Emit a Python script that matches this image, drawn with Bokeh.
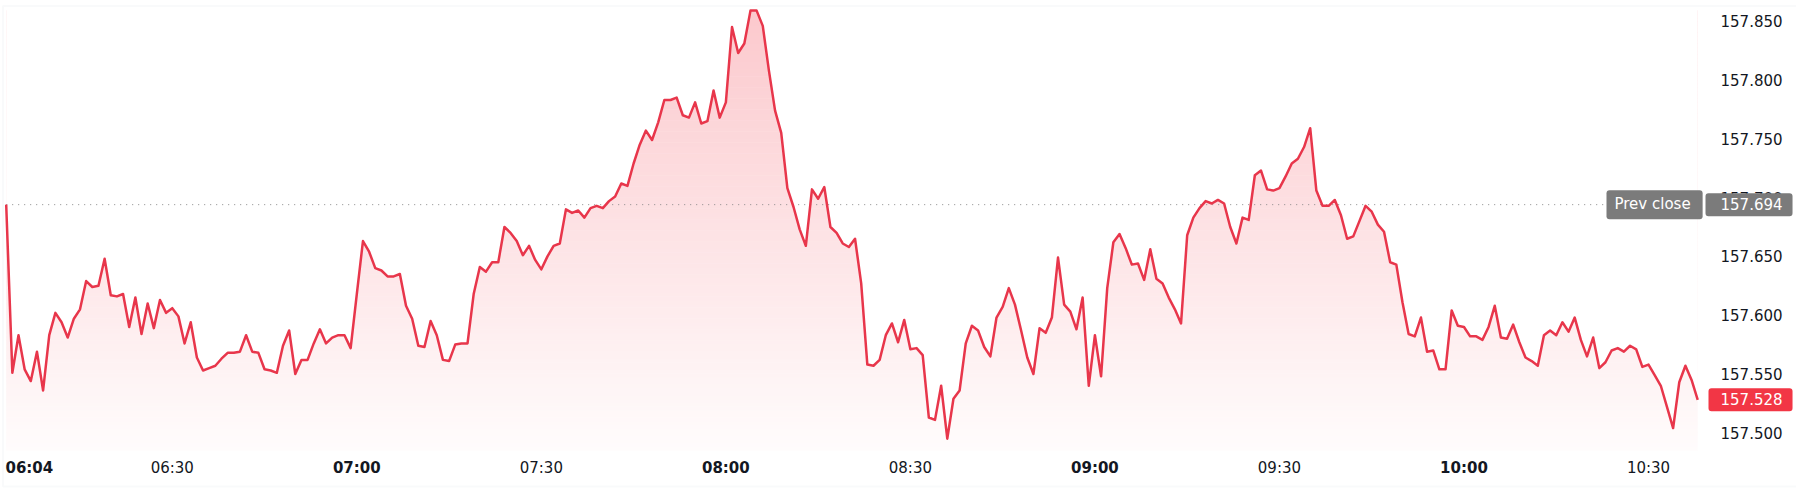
import numpy as np
from bokeh.plotting import figure
from bokeh.models import (Range1d, FixedTicker, NumeralTickFormatter, Label,
                          LabelSet, ColumnDataSource, LinearAxis, BoxAnnotation)
from bokeh.core.properties import value
from bokeh.embed import file_html
from bokeh.resources import INLINE

# ---------------- data ----------------
start_minute = 3          # minutes after 06:00 of the first sample (1-minute samples)
prev_close = 157.694
last_price = 157.528

prices = [
    157.694, 157.551, 157.583, 157.554, 157.544, 157.569, 157.536, 157.583, 157.602, 157.594,
    157.581, 157.597, 157.605, 157.629, 157.624, 157.625, 157.648, 157.617, 157.616, 157.618,
    157.590, 157.615, 157.584, 157.610, 157.589, 157.613, 157.602, 157.606, 157.599, 157.576,
    157.594, 157.564, 157.553, 157.555, 157.557, 157.563, 157.568, 157.568, 157.569, 157.583,
    157.569, 157.568, 157.554, 157.553, 157.551, 157.574, 157.587, 157.550, 157.562, 157.562,
    157.576, 157.588, 157.576, 157.581, 157.583, 157.583, 157.572, 157.618, 157.663, 157.654,
    157.640, 157.638, 157.633, 157.633, 157.635, 157.608, 157.597, 157.574, 157.573, 157.595,
    157.583, 157.562, 157.561, 157.575, 157.576, 157.576, 157.618, 157.641, 157.637, 157.645,
    157.645, 157.675, 157.670, 157.663, 157.651, 157.659, 157.647, 157.639, 157.650, 157.659,
    157.661, 157.690, 157.687, 157.689, 157.683, 157.691, 157.693, 157.691, 157.697, 157.701,
    157.712, 157.710, 157.729, 157.745, 157.757, 157.749, 157.764, 157.783, 157.783, 157.785,
    157.770, 157.768, 157.781, 157.763, 157.765, 157.791, 157.768, 157.781, 157.845, 157.823,
    157.831, 157.859, 157.859, 157.846, 157.808, 157.774, 157.755, 157.708, 157.692, 157.673,
    157.659, 157.707, 157.699, 157.709, 157.675, 157.670, 157.661, 157.658, 157.665, 157.627,
    157.558, 157.557, 157.562, 157.583, 157.593, 157.577, 157.596, 157.571, 157.572, 157.566,
    157.513, 157.511, 157.540, 157.495, 157.529, 157.536, 157.576, 157.591, 157.587, 157.573,
    157.565, 157.598, 157.607, 157.623, 157.609, 157.587, 157.564, 157.550, 157.589, 157.585,
    157.598, 157.649, 157.609, 157.603, 157.588, 157.615, 157.540, 157.583, 157.548, 157.623,
    157.662, 157.669, 157.657, 157.643, 157.644, 157.630, 157.656, 157.631, 157.627, 157.615,
    157.605, 157.593, 157.668, 157.683, 157.691, 157.697, 157.695, 157.698, 157.695, 157.675,
    157.661, 157.683, 157.681, 157.719, 157.723, 157.707, 157.706, 157.708, 157.718, 157.729,
    157.733, 157.743, 157.759, 157.706, 157.693, 157.693, 157.698, 157.685, 157.665, 157.667,
    157.680, 157.693, 157.688, 157.677, 157.671, 157.645, 157.643, 157.611, 157.584, 157.582,
    157.598, 157.569, 157.570, 157.554, 157.554, 157.604, 157.591, 157.590, 157.582, 157.582,
    157.579, 157.590, 157.608, 157.581, 157.580, 157.592, 157.577, 157.564, 157.561, 157.557,
    157.583, 157.587, 157.583, 157.594, 157.586, 157.598, 157.579, 157.565, 157.581, 157.555,
    157.560, 157.570, 157.572, 157.569, 157.574, 157.571, 157.556, 157.558, 157.549, 157.540,
    157.522, 157.504, 157.543, 157.557, 157.545, 157.528,
]

y_ticks = [157.500, 157.550, 157.600, 157.650, 157.700, 157.750, 157.800, 157.850]
x_ticks_regular = [30, 90, 150, 210, 270]
x_labels_regular = ["06:30", "07:30", "08:30", "09:30", "10:30"]
x_ticks_bold = [60, 120, 180, 240]
x_labels_bold = ["07:00", "08:00", "09:00", "10:00"]
first_label = "06:04"

minutes = start_minute + np.arange(len(prices))

# ---------------- geometry (pixel calibration of the scales) ----------------
W, H = 1796, 490
px_per_min = 6.151
px_per_unit = 1176.0
x_start = minutes[0] - 5.7 / px_per_min
x_end = x_start + W / px_per_min
y_end = 157.850 + 20.7 / px_per_unit
y_start = y_end - H / px_per_unit

def m_at(fx):
    return x_start + fx / px_per_min

def v_at(fy):
    return y_end - fy / px_per_unit

FONT = "DejaVu Sans"
TXT = "#131722"
RED = "#f23645"
LINE = "#e8364b"
GRAY = "#7b7b7b"

p = figure(width=W, height=H, title=None,
           x_range=Range1d(x_start, x_end), y_range=Range1d(y_start, y_end),
           output_backend="svg", toolbar_location=None,
           x_axis_location=None, y_axis_location=None,
           min_border=0)
p.outline_line_color = None
p.grid.visible = False
p.background_fill_color = "white"
p.border_fill_color = "white"

# card border
p.add_layout(BoxAnnotation(left=m_at(2.5), right=m_at(W + 20), top=v_at(5.5), bottom=v_at(486),
                           fill_color=None, line_color="#eceef2", line_width=2))

# price scale (right)
ya = LinearAxis(fixed_location=m_at(1703))
ya.ticker = FixedTicker(ticks=y_ticks)
ya.formatter = NumeralTickFormatter(format="0.000")
ya.axis_line_color = None
ya.major_tick_line_color = None
ya.minor_tick_line_color = None
ya.major_tick_out = 0
ya.major_tick_in = 0
ya.major_label_standoff = 17
ya.major_label_text_font = FONT
ya.major_label_text_font_size = "15px"
ya.major_label_text_color = TXT
p.add_layout(ya, "right")

# time scale (below), regular-weight labels
xa = LinearAxis(fixed_location=v_at(449))
xa.ticker = FixedTicker(ticks=x_ticks_regular)
xa.major_label_overrides = {t: l for t, l in zip(x_ticks_regular, x_labels_regular)}
xa.axis_line_color = None
xa.major_tick_line_color = None
xa.minor_tick_line_color = None
xa.major_tick_out = 0
xa.major_tick_in = 0
xa.major_label_standoff = 9
xa.major_label_text_font = FONT
xa.major_label_text_font_size = "15px"
xa.major_label_text_color = TXT
p.add_layout(xa, "below")

# ---------------- gradient fill under the line ----------------
n_bands = 120
top_v = max(prices)
fill_bottom = v_at(450)
edges = np.linspace(fill_bottom, top_v, n_bands + 1)
centers = (edges[:-1] + edges[1:]) / 2
band_h = (edges[1] - edges[0]) * 1.15
t = (centers - fill_bottom) / (top_v - fill_bottom)
alpha = 0.015 + (0.27 - 0.015) * t
base = np.array([242, 54, 69])
cols = []
for a in alpha:
    c = (255 * (1 - a) + base * a).round().astype(int)
    cols.append("#%02x%02x%02x" % tuple(c))
p.hbar(y=centers, height=band_h, left=minutes[0], right=minutes[-1],
       fill_color=cols, line_color=None)

# white mask above the line
p.varea(x=minutes, y1=prices, y2=y_end + 0.02, fill_color="white")

# previous close dotted line
p.segment(x0=[minutes[0]], x1=[m_at(1606)], y0=[prev_close], y1=[prev_close],
          line_color="#8a8a8a", line_width=1, line_dash="1 5")

# price line
p.line(minutes, prices, line_color=LINE, line_width=2.5, line_join="round")

# ---------------- bold time labels ----------------
lab_y = v_at(458)
src_b = ColumnDataSource(dict(x=x_ticks_bold, y=[lab_y] * len(x_ticks_bold), text=x_labels_bold))
p.add_layout(LabelSet(x="x", y="y", text="text", source=src_b,
                      text_align="center", text_baseline="top",
                      text_font=value(FONT), text_font_size=value("15px"),
                      text_font_style="bold", text_color=TXT))
p.add_layout(Label(x=m_at(5), y=lab_y, text=first_label,
                   text_align="left", text_baseline="top",
                   text_font=FONT, text_font_size="15px",
                   text_font_style="bold", text_color=TXT))

# ---------------- price tags ----------------
def tag(text, fx, v, color, pad):
    return Label(x=m_at(fx), y=v, text=text, text_align="left", text_baseline="middle",
                 text_font=FONT, text_font_size="15px", text_color="white",
                 background_fill_color=color, border_line_color=None,
                 padding=pad, border_radius=3)

p.add_layout(tag("Prev close", 1606, prev_close, GRAY, dict(left=8, right=12, top=5, bottom=6)))
p.add_layout(tag("157.694", 1705, prev_close, GRAY, dict(left=15, right=10, top=5, bottom=6)))
p.add_layout(tag("157.528", 1708, last_price, RED, dict(left=12, right=10, top=5, bottom=6)))

open("out.html", "w").write(file_html(p, INLINE))
